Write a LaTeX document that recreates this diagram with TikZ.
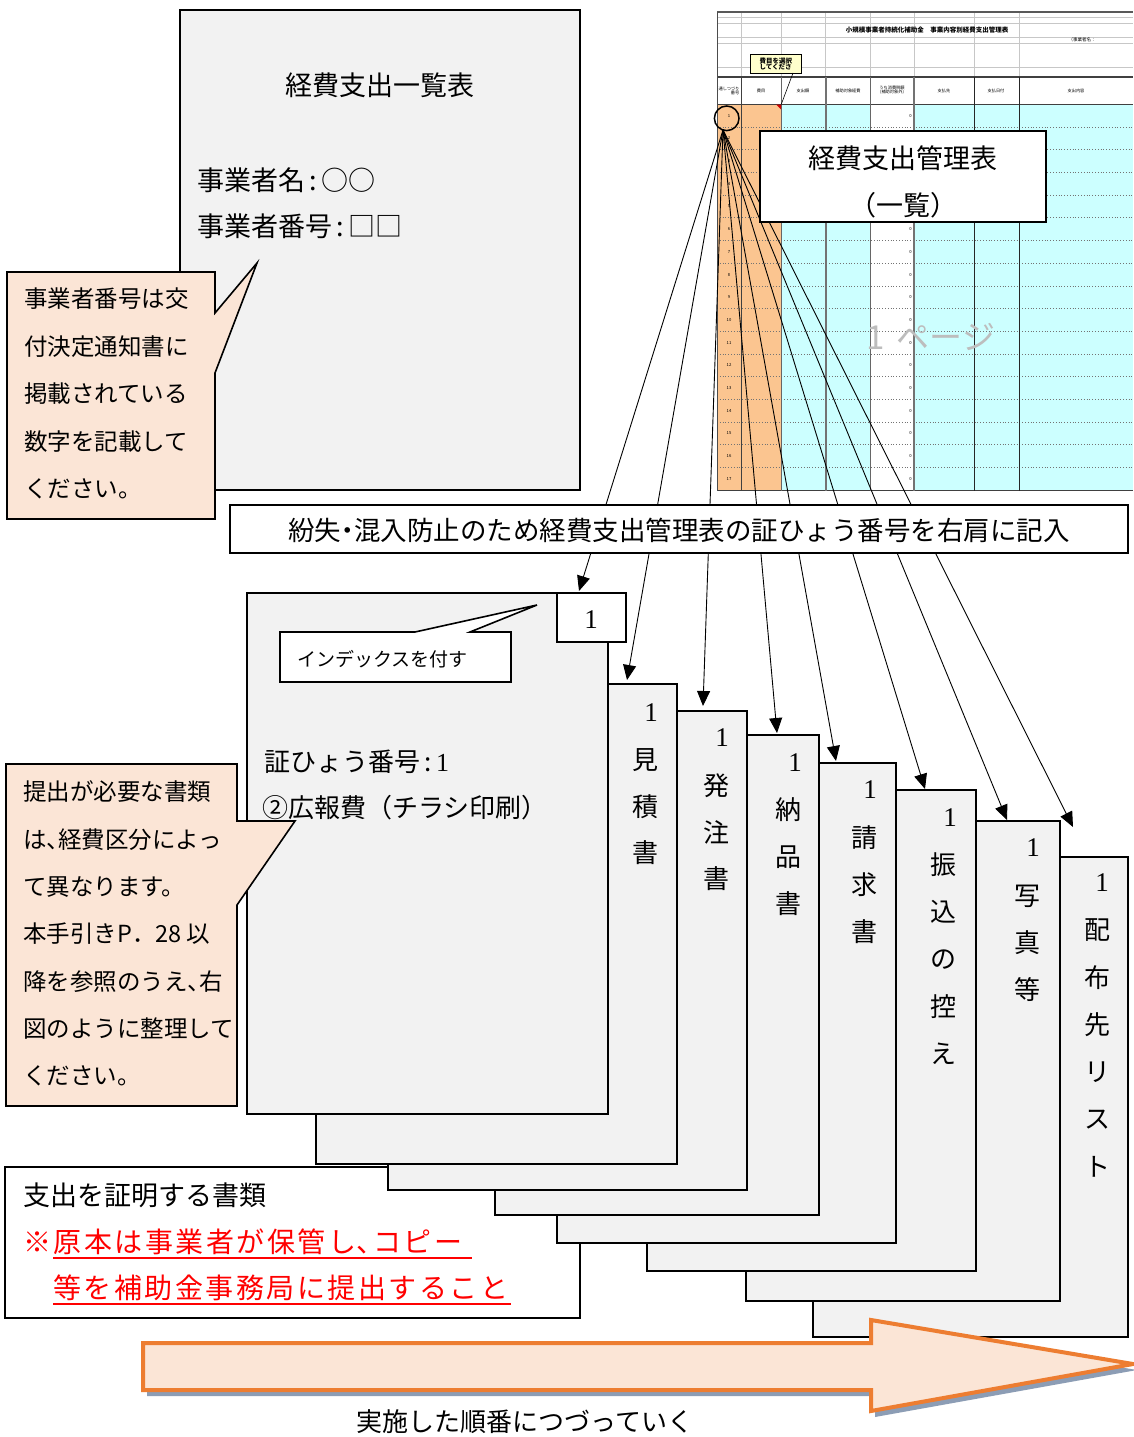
\documentclass[tikz,border=0pt]{standalone}
\usepackage{fontspec}
\setmainfont{Noto Sans CJK JP}
\newfontfamily\numfont{Liberation Serif}
\newfontfamily\jpwide{Noto Sans CJK JP}[LetterSpace=9]
\usetikzlibrary{arrows.meta}
\definecolor{docgray}{HTML}{F2F2F2}
\definecolor{peach}{HTML}{FBE5D6}
\definecolor{sheetorange}{HTML}{FBC590}
\definecolor{sheetcyan}{HTML}{CCFFFF}
\definecolor{arrorange}{HTML}{ED7D31}
\definecolor{shadowblue}{HTML}{8C9DB5}
\definecolor{notered}{HTML}{FF0000}
\definecolor{markgray}{HTML}{BDBDBD}
\definecolor{commentyellow}{HTML}{FFFFCC}
\newcommand\jpsize[1]{\fontsize{#1}{#1}\selectfont}
\newcommand\ncomma{\makebox[0.5em][l]{、}}
\begin{document}
\begin{tikzpicture}[x=1pt,y=-1pt,
  txt/.style={inner sep=0pt, anchor=west},
  ctxt/.style={inner sep=0pt},
  docbox/.style={draw, fill=docgray, line width=1.8pt},
  callout/.style={draw, fill=peach, line width=1.6pt, line join=miter},
  whitebox/.style={draw, fill=white, line width=1.6pt},
  arr/.style={-{Triangle[length=15pt,width=13pt]}, line width=0.9pt},
  tiny/.style={inner sep=0pt, font=\jpsize{4.2}, align=center},
  vlabel/.style={inner sep=0pt, font=\jpsize{26}},
  numlabel/.style={inner sep=0pt, font=\numfont\jpsize{27}},
  sheetline/.style={draw=black!60, line width=0.8pt},
  faint/.style={draw=black!22, line width=0.6pt},
  rowline/.style={draw=black!55, dotted, line width=0.8pt}
]
\useasboundingbox (0,0) rectangle (1133,1437);
\fill[white] (0,0) rectangle (1133,1437);

% ---------------- spreadsheet (top right) ----------------
\fill[white] (717,12) rectangle (1133,492);
\fill[sheetorange] (717,104.3) rectangle (781,490.5);
\fill[sheetcyan] (781,104.3) rectangle (870,490.5);
\fill[sheetcyan] (914,104.3) rectangle (1133,490.5);
\foreach \yy in {17,23,37,43,67} \draw[faint] (717,\yy) -- (1133,\yy);
\foreach \xx in {741.7,781,825.7,870,914,974,1019} \draw[faint] (\xx,12) -- (\xx,77);
\draw[draw=black!65, line width=2pt] (717,12) -- (1133,12);
\foreach \k in {1,...,16} \draw[rowline] (717,{104.3+22.7*\k}) -- (1133,{104.3+22.7*\k});
\draw[draw=black!75, line width=1.4pt] (717,77) -- (1133,77);
\draw[draw=black!75, line width=1.4pt] (717,104.3) -- (1133,104.3);
\draw[draw=black!75, line width=1.4pt] (717,490.5) -- (1133,490.5);
\draw[draw=black!70, line width=1.2pt] (717.3,12) -- (717.3,490.5);
\draw[draw=black!75, line width=1pt] (741.7,77) -- (741.7,490.5);
\draw[sheetline] (781,77) -- (781,490.5);
\draw[draw=black!55, line width=2.2pt] (825.7,77) -- (825.7,490.5);
\draw[sheetline] (870,77) -- (870,490.5);
\draw[draw=black!55, line width=1.4pt] (914,77) -- (914,490.5);
\draw[draw=black!85, line width=1pt] (974,77) -- (974,490.5);
\draw[draw=black!85, line width=1pt] (1019,77) -- (1019,490.5);
\node[inner sep=0pt, font=\bfseries\jpsize{6.5}] (sheettitle) at (927,30) {小規模事業者持続化補助金\quad 事業内容別経費支出管理表};
\node[inner sep=0pt, font=\jpsize{4.5}] (sheetbiz) at (1082,40) {（事業者名：};
\node[tiny] (h1) at (729,90.5) {通しつづり\\[-0.3pt]\hfill 番号};
\node[tiny] (h2) at (761,90.5) {費目};
\node[tiny] (h3) at (803,90.5) {支出額};
\node[tiny] (h4) at (848,90.5) {補助対象経費};
\node[tiny] (h5) at (892,90.5) {うち消費税額\\(補助対象外)};
\node[tiny] (h6) at (944,90.5) {支払先};
\node[tiny] (h7) at (996,90.5) {支払日付};
\node[tiny] (h8) at (1076,90.5) {支出内容};
\foreach \k in {1,...,17} {
  \node[tiny] (rn\k) at (729,{104.3+22.7*\k-11.35}) {\k};
  \node[tiny, anchor=east] (zero\k) at (912,{104.3+22.7*\k-11.35}) {0};
}
\node[draw, line width=0.6pt, fill=commentyellow, inner sep=1pt, align=left, font=\bfseries\jpsize{6.5}, minimum width=51pt, minimum height=19pt, anchor=north west] (cmt) at (750,54) {費目を選択\\してくださ};
\coordinate (cmtcorner) at (781,105);
\draw[line width=0.6pt] (793,73) -- (cmtcorner);
\fill[red!80!black] (776,104.5) -- (781,104.5) -- (781,109.5) -- cycle;
\node[inner sep=0pt, text=markgray, font=\jpsize{33}] (pagemark) at (931,337) {1\hspace{0.35em}ページ};
\node[draw, circle, line width=1.5pt, minimum size=24.6pt, inner sep=0pt] (numcircle) at (726.7,118.3) {};

% ---------------- top-left list document ----------------
\draw[docbox, line width=1.5pt] (180,10) rectangle (580,490);
\node[ctxt, font=\jpsize{27}] (listtitle) at (380,85) {経費支出一覧表};
\node[txt, font=\jpsize{27}] (bizname) at (197,180) {事業者名\,:\,○○};
\node[txt, font=\jpsize{27}] (biznum) at (197,226) {事業者番号\,:\,□□};

% callout A
\draw[callout] (7,272) -- (215,272) -- (215,313) -- (257,263) -- (215,373) -- (215,519) -- (7,519) -- cycle;
\foreach \t [count=\i] in {事業者番号は交,付決定通知書に,掲載されている,数字を記載して,ください。}
  \node[txt, font=\jpsize{23.5}] (noteA\i) at (24,{299+47.5*(\i-1)}) {\t};

% ---------------- fan of arrows ----------------
\coordinate (src) at (723,130);
\coordinate (t1) at (579,591);
\coordinate (t2) at (627,680);
\coordinate (t3) at (703,706);
\coordinate (t4) at (777,733);
\coordinate (t5) at (836,761);
\coordinate (t6) at (925,789);
\coordinate (t7) at (1007,820);
\coordinate (t8) at (1073,827);
\foreach \k in {1,...,8} \draw[arr] (src) -- (t\k);

% management table label
\draw[whitebox] (760,131) rectangle (1046,222);
\node[ctxt, font=\jpsize{27}] (mgmt1) at (903,158) {経費支出管理表};
\node[ctxt, font=\jpsize{27}] (mgmt2) at (903,205) {（一覧）};

% banner
\draw[whitebox] (230,505) rectangle (1128,553);
\node[ctxt, font=\jpsize{26.5}] (banner) at (679,530) {紛失\makebox[0.5em]{・}混入防止のため経費支出管理表の証ひょう番号を右肩に記入};

% ---------------- bottom-left note box ----------------
\draw[whitebox] (5,1167) rectangle (580,1318);
\node[txt, font=\jpsize{27}] (proof) at (23,1195) {支出を証明する書類};
\node[txt, font=\jpwide\jpsize{28}, text=notered] (orig1) at (23,1242) {※原本は事業者が保管し\makebox[0.6em][l]{、}コピー};
\node[txt, font=\jpwide\jpsize{28}, text=notered] (orig2) at (53,1288) {等を補助金事務局に提出すること};
\draw[notered, line width=2pt] (53,1257.5) -- (472,1257.5);
\draw[notered, line width=2pt] (53,1304) -- (511,1304);

% ---------------- stack of documents (back to front) ----------------
\draw[docbox] (813,857) rectangle (1128,1337);
\node[numlabel] (d8n) at (1102,883) {1};
\foreach \c [count=\i] in {配,布,先,リ,ス,ト} \node[vlabel] (d8c\i) at (1097,{930+47.4*(\i-1)}) {\c};

\draw[docbox] (746,821) rectangle (1060,1301);
\node[numlabel] (d7n) at (1033,848) {1};
\foreach \c [count=\i] in {写,真,等} \node[vlabel] (d7c\i) at (1027,{896+47*(\i-1)}) {\c};

\draw[docbox] (647,790) rectangle (976,1271);
\node[numlabel] (d6n) at (950,818) {1};
\foreach \c [count=\i] in {振,込,の,控,え} \node[vlabel] (d6c\i) at (943,{865+47.2*(\i-1)}) {\c};

\draw[docbox] (557,763) rectangle (896,1243);
\node[numlabel] (d5n) at (870,790) {1};
\foreach \c [count=\i] in {請,求,書} \node[vlabel] (d5c\i) at (864,{838+47*(\i-1)}) {\c};

\draw[docbox] (495,735) rectangle (819,1215);
\node[numlabel] (d4n) at (795,763) {1};
\foreach \c [count=\i] in {納,品,書} \node[vlabel] (d4c\i) at (788,{810+47*(\i-1)}) {\c};

\draw[docbox] (388,711) rectangle (747,1190);
\node[numlabel] (d3n) at (722,738) {1};
\foreach \c [count=\i] in {発,注,書} \node[vlabel] (d3c\i) at (716,{786+46.5*(\i-1)}) {\c};

\draw[docbox] (316,684) rectangle (677,1164);
\node[numlabel] (d2n) at (651,713) {1};
\foreach \c [count=\i] in {見,積,書} \node[vlabel] (d2c\i) at (645,{760+46.5*(\i-1)}) {\c};

% front (index) document
\draw[docbox] (247,593) rectangle (608,1114);
\draw[whitebox] (557,593) rectangle (626,642);
\node[numlabel] (tabnum) at (591,620) {1};
\draw[whitebox, line join=miter] (280,632) -- (415,632) -- (537,605) -- (470,632) -- (511,632) -- (511,682) -- (280,682) -- cycle;
\node[txt, font=\jpsize{19}] (indexnote) at (297,659) {インデックスを付す};
\node[txt, font=\jpsize{26}] (slipno) at (264,762) {証ひょう番号\,:\,{\numfont 1}};
\node[txt, font=\jpsize{26}] (category) at (262,808) {②広報費（チラシ印刷）};

% callout B
\draw[callout] (6,764) -- (237,764) -- (237,821) -- (295,821) -- (237,905) -- (237,1106) -- (6,1106) -- cycle;
\foreach \t [count=\i] in {提出が必要な書類,は\ncomma 経費区分によっ,て異なります。,本手引きP．28 以,降を参照のうえ\ncomma 右,図のように整理して,ください。}
  \node[txt, font=\jpsize{23.5}] (noteB\i) at (23,{792+47.3*(\i-1)}) {\t};

% ---------------- big order arrow ----------------
\fill[shadowblue, shift={(4,6)}] (143,1343) -- (871,1343) -- (871,1320) -- (1133,1364) -- (871,1411) -- (871,1390) -- (143,1390) -- cycle;
\draw[arrorange, fill=peach, line width=4pt, line join=miter] (143,1343) -- (871,1343) -- (871,1320) -- (1133,1364) -- (871,1411) -- (871,1390) -- (143,1390) -- cycle;
\node[ctxt, font=\jpsize{26}] (ordertext) at (525,1422) {実施した順番につづっていく};
\end{tikzpicture}
\end{document}
